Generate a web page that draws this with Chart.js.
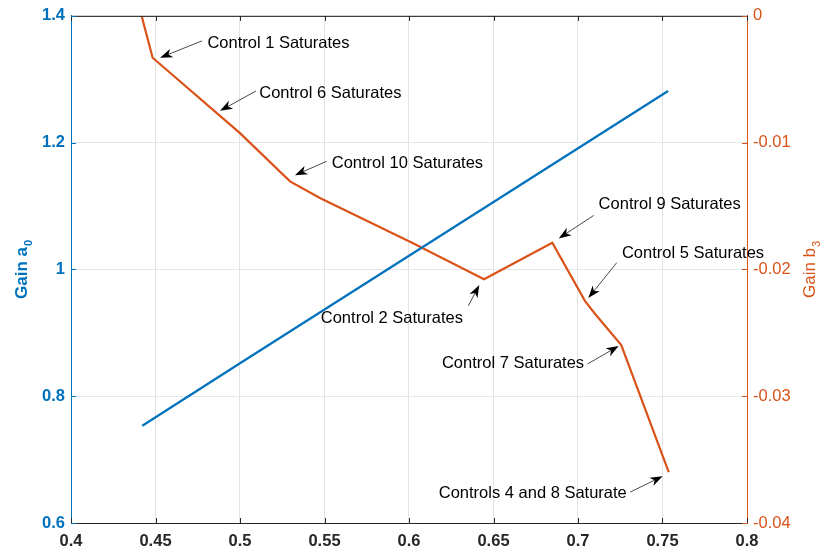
<!DOCTYPE html>
<html>
<head>
<meta charset="utf-8">
<script src="https://cdn.jsdelivr.net/npm/chart.js@4.4.1/dist/chart.umd.min.js"></script>
<style>
  html, body { margin: 0; padding: 0; background: #fff; }
  #wrap { width: 824px; height: 552px; }
</style>
</head>
<body>
<div id="wrap"><canvas id="chart-canvas"></canvas></div>
<script>
// gain a0, left axis
const a0X = [0.4422, 0.5, 0.7533];
const a0Y = [0.7535, 0.852, 1.2816];

// gain b3, right axis
const b3X = [0.4418, 0.4483, 0.5, 0.5296, 0.5473, 0.6018, 0.6444, 0.6848, 0.7041, 0.7099, 0.7256, 0.7537];
const b3Y = [0, -0.0033, -0.00925, -0.01305, -0.01436, -0.01789, -0.02077, -0.01789, -0.02248, -0.02347, -0.02596, -0.03599];

const xTicks = [0.4, 0.45, 0.5, 0.55, 0.6, 0.65, 0.7, 0.75, 0.8];
const xTickLabels = ['0.4', '0.45', '0.5', '0.55', '0.6', '0.65', '0.7', '0.75', '0.8'];
const a0Ticks = [0.6, 0.8, 1, 1.2, 1.4];
const a0TickLabels = ['0.6', '0.8', '1', '1.2', '1.4'];
const b3Ticks = [-0.04, -0.03, -0.02, -0.01, 0];
const b3TickLabels = ['-0.04', '-0.03', '-0.02', '-0.01', '0'];

// text anchor (left, middle) then arrow tail and head, all in x / b3 units
const noteText = ['Control 1 Saturates', 'Control 6 Saturates', 'Control 10 Saturates', 'Control 9 Saturates',
                  'Control 5 Saturates', 'Control 2 Saturates', 'Control 7 Saturates', 'Controls 4 and 8 Saturate'];
const noteTX = [0.4807, 0.5114, 0.5543, 0.7122, 0.7260, 0.5478, 0.6195, 0.6176];
const noteTY = [-0.00218, -0.00611, -0.01165, -0.01488, -0.01873, -0.02387, -0.02745, -0.03767];
const tailX  = [0.4775, 0.5095, 0.5513, 0.7093, 0.7229, 0.6351, 0.7057, 0.7309];
const tailY  = [-0.00197, -0.00592, -0.01147, -0.01574, -0.01947, -0.02287, -0.02745, -0.03756];
const headX  = [0.4527, 0.4882, 0.5325, 0.6886, 0.7061, 0.6416, 0.7241, 0.7501];
const headY  = [-0.0033, -0.00749, -0.01257, -0.01755, -0.02226, -0.02122, -0.02604, -0.03631];

const BLUE = '#0072BD';
const ORANGE = '#D95319';
const FONT = '"Liberation Sans", Arial, Helvetica, sans-serif';

function arrow(ctx, x1, y1, x2, y2) {
    const ang = Math.atan2(y2 - y1, x2 - x1);
    const L = 12.5, W = 4.5, back = 3.5;
    ctx.beginPath();
    ctx.moveTo(x1, y1);
    ctx.lineTo(x2 - (L - back) * Math.cos(ang), y2 - (L - back) * Math.sin(ang));
    ctx.stroke();
    ctx.save();
    ctx.translate(x2, y2);
    ctx.rotate(ang);
    ctx.beginPath();
    ctx.moveTo(0, 0);
    ctx.lineTo(-L, -W);
    ctx.lineTo(-L + back, 0);
    ctx.lineTo(-L, W);
    ctx.closePath();
    ctx.fill();
    ctx.restore();
}

// rotated axis title with a subscript
function vtitle(ctx, main, sub, x, yc, font, subFont, color) {
    ctx.save();
    ctx.fillStyle = color;
    ctx.font = font;
    const w1 = ctx.measureText(main).width;
    ctx.font = subFont;
    const w2 = ctx.measureText(sub).width;
    const total = w1 + 1 + w2;
    ctx.translate(x, yc);
    ctx.rotate(-Math.PI / 2);
    ctx.textAlign = 'left';
    ctx.textBaseline = 'alphabetic';
    ctx.font = font;
    ctx.fillText(main, -total / 2, 0);
    ctx.font = subFont;
    ctx.fillText(sub, -total / 2 + w1 + 1, 5);
    ctx.restore();
}

const extras = {
    id: 'extras',
    afterDraw(chart) {
        const ctx = chart.ctx;
        const area = chart.chartArea;
        const sx = chart.scales.x, sa = chart.scales.yA, sb = chart.scales.yB;
        const tl = 5;
        ctx.save();
        // box top and inward ticks
        ctx.lineWidth = 1;
        ctx.strokeStyle = '#262626';
        ctx.beginPath();
        ctx.moveTo(area.left, area.top + 0.5);
        ctx.lineTo(area.right, area.top + 0.5);
        xTicks.forEach(v => {
            const px = Math.round(sx.getPixelForValue(v)) + 0.5;
            ctx.moveTo(px, area.bottom);
            ctx.lineTo(px, area.bottom - tl);
            ctx.moveTo(px, area.top);
            ctx.lineTo(px, area.top + tl);
        });
        ctx.stroke();
        ctx.strokeStyle = BLUE;
        ctx.beginPath();
        a0Ticks.forEach(v => {
            const py = Math.round(sa.getPixelForValue(v)) + 0.5;
            ctx.moveTo(area.left, py);
            ctx.lineTo(area.left + tl, py);
        });
        ctx.stroke();
        ctx.strokeStyle = ORANGE;
        ctx.beginPath();
        b3Ticks.forEach(v => {
            const py = Math.round(sb.getPixelForValue(v)) + 0.5;
            ctx.moveTo(area.right, py);
            ctx.lineTo(area.right - tl, py);
        });
        ctx.stroke();

        // annotations
        ctx.fillStyle = '#000';
        ctx.strokeStyle = '#1a1a1a';
        ctx.lineWidth = 0.8;
        ctx.font = '16.5px ' + FONT;
        ctx.textAlign = 'left';
        ctx.textBaseline = 'middle';
        noteText.forEach((t, i) => {
            ctx.fillText(t, sx.getPixelForValue(noteTX[i]), sb.getPixelForValue(noteTY[i]));
            arrow(ctx, sx.getPixelForValue(tailX[i]), sb.getPixelForValue(tailY[i]),
                  sx.getPixelForValue(headX[i]), sb.getPixelForValue(headY[i]));
        });
        ctx.restore();

        const yc = (area.top + area.bottom) / 2;
        vtitle(ctx, 'Gain a', '0', 26.5, yc, 'bold 17px ' + FONT, 'bold 11px ' + FONT, BLUE);
        vtitle(ctx, 'Gain b', '3', 815, yc, '17px ' + FONT, '11px ' + FONT, ORANGE);
    }
};

new Chart('chart-canvas', {
    type: 'line',
    data: {
        datasets: [
            {
                label: 'a0',
                data: a0X.map((x, i) => ({x: x, y: a0Y[i]})),
                yAxisID: 'yA',
                borderColor: BLUE,
                borderWidth: 2.2,
                pointRadius: 0,
                tension: 0,
                fill: false
            },
            {
                label: 'b3',
                data: b3X.map((x, i) => ({x: x, y: b3Y[i]})),
                yAxisID: 'yB',
                borderColor: ORANGE,
                borderWidth: 2.2,
                pointRadius: 0,
                tension: 0,
                fill: false
            }
        ]
    },
    options: {
        responsive: true,
        maintainAspectRatio: false,
        animation: false,
        events: [],
        layout: {padding: {top: 14, left: 0, right: 0, bottom: 0}},
        plugins: {legend: {display: false}, tooltip: {enabled: false}},
        scales: {
            x: {
                type: 'linear',
                min: 0.4,
                max: 0.8,
                afterBuildTicks: s => { s.ticks = xTicks.map(v => ({value: v})); },
                afterFit: s => { s.height = 29; },
                ticks: {
                    autoSkip: false,
                    maxRotation: 0,
                    padding: 9,
                    color: '#262626',
                    font: {family: FONT, size: 16.5, weight: 'bold'},
                    callback: v => xTickLabels[xTicks.indexOf(v)]
                },
                grid: {color: '#e3e3e3', drawTicks: false},
                border: {color: '#262626', width: 1}
            },
            yA: {
                type: 'linear',
                position: 'left',
                min: 0.6,
                max: 1.4,
                afterBuildTicks: s => { s.ticks = a0Ticks.map(v => ({value: v})); },
                afterFit: s => { s.width = 71; },
                ticks: {
                    padding: 6,
                    color: BLUE,
                    font: {family: FONT, size: 16.5, weight: 'bold'},
                    callback: v => a0TickLabels[a0Ticks.indexOf(v)]
                },
                grid: {color: '#e1e8ef', drawTicks: false},
                border: {color: BLUE, width: 1}
            },
            yB: {
                type: 'linear',
                position: 'right',
                min: -0.04,
                max: 0,
                afterBuildTicks: s => { s.ticks = b3Ticks.map(v => ({value: v})); },
                afterFit: s => { s.width = 77; },
                ticks: {
                    padding: 6,
                    color: ORANGE,
                    font: {family: FONT, size: 16.5},
                    callback: v => b3TickLabels[b3Ticks.indexOf(v)]
                },
                grid: {display: false, drawTicks: false},
                border: {color: ORANGE, width: 1}
            }
        }
    },
    plugins: [extras]
});
</script>
</body>
</html>
